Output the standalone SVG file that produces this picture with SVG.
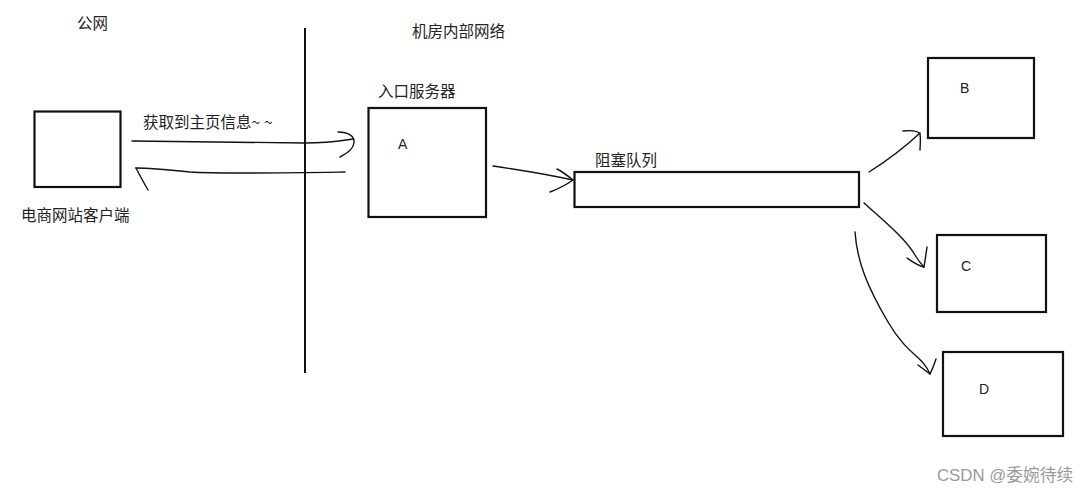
<svg xmlns="http://www.w3.org/2000/svg" width="1089" height="496" viewBox="0 0 1089 496">
<style>
.box{fill:#fff;stroke:#111;stroke-width:2.2}
.lbl{font-family:"Noto Sans CJK SC","Liberation Sans",sans-serif;font-size:15.5px;fill:#222}
.let{font-family:"Liberation Sans","Noto Sans",sans-serif;font-size:14px;fill:#222}
.ink{fill:none;stroke:#111;stroke-width:1.4;stroke-linecap:round;stroke-linejoin:round}
.wm{font-family:"Liberation Sans","Noto Sans CJK SC",sans-serif;font-size:16.8px;fill:#9a9a9a}
</style>
<rect width="1089" height="496" fill="#fff"/>
<g id="labels">
<text class="lbl" x="77" y="29">公网</text>
<text class="lbl" x="412" y="37">机房内部网络</text>
</g>
<line id="divider" x1="305" y1="28" x2="305" y2="373" stroke="#111" stroke-width="2"/>
<g id="client">
<rect class="box" x="34.5" y="111.5" width="86" height="75.5"/>
<text class="lbl" x="21" y="221">电商网站客户端</text>
</g>
<g id="server-a">
<text class="lbl" x="378" y="97">入口服务器</text>
<rect class="box" x="368.5" y="108" width="117.5" height="109"/>
<text class="let" x="398" y="149">A</text>
</g>
<g id="queue">
<text class="lbl" x="595" y="166">阻塞队列</text>
<rect class="box" x="574.5" y="172" width="284.5" height="35"/>
</g>
<g id="node-b">
<rect class="box" x="928" y="58" width="106" height="80"/>
<text class="let" x="960" y="93">B</text>
</g>
<g id="node-c">
<rect class="box" x="937" y="235" width="109" height="77"/>
<text class="let" x="961" y="271">C</text>
</g>
<g id="node-d">
<rect class="box" x="943" y="352" width="120" height="84"/>
<text class="let" x="979" y="394">D</text>
</g>
<g id="connectors">
<text class="lbl" x="143" y="128">获取到主页信息<tspan letter-spacing="4">~~</tspan></text>
<path class="ink" d="M132,141 C200,142 260,143 305,143 C330,143 345,140 353,139"/>
<path class="ink" d="M338,132 C348,132 355,136 354,143 C353,150 346,154 340,157"/>
<path class="ink" d="M345,172 C280,173 220,174 190,172 C170,170 150,168 136,168"/>
<path class="ink" d="M136,168 C140,176 144,183 148,190"/>
<path class="ink" d="M493,166 C520,170 550,175 573,180"/>
<path class="ink" d="M557,169 C563,172 568,176 573,180 C566,185 558,189 550,192"/>
<path class="ink" d="M869,172 C885,162 905,147 920,133"/>
<path class="ink" d="M903,131 C912,130 918,131 920,134 C921,140 920,146 920,150"/>
<path class="ink" d="M864,203 C885,222 905,238 915,255 C918,260 921,264 924,267"/>
<path class="ink" d="M907,258 C913,262 918,266 924,267 M927,247 C926,254 925,261 924,267"/>
<path class="ink" d="M855,232 C857,262 868,288 888,322 S922,355 930,374"/>
<path class="ink" d="M918,365 C922,368 926,371 930,374 M936,359 C934,365 932,370 930,374"/>
</g>
<text class="wm" x="937" y="481">CSDN @委婉待续</text>
</svg>
